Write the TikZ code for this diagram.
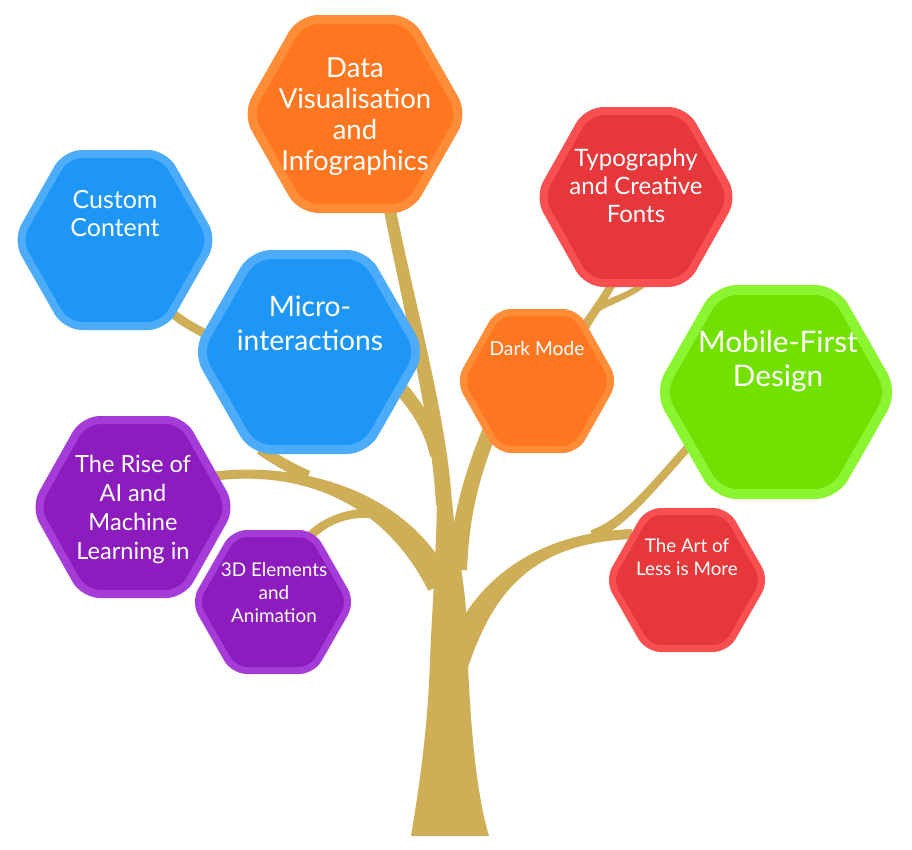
\documentclass[tikz,border=0pt]{standalone}
\usepackage{fontspec}
\setmainfont{Lato}
\usetikzlibrary{calc}
\definecolor{treecol}{HTML}{CFAE58}
\definecolor{bluef}{HTML}{1E96F5}
\definecolor{blueb}{HTML}{4DACFA}
\definecolor{orf}{HTML}{FF7620}
\definecolor{orb}{HTML}{FF8C37}
\definecolor{redf}{HTML}{E6373A}
\definecolor{redb}{HTML}{F85050}
\definecolor{grf}{HTML}{73E100}
\definecolor{grb}{HTML}{8CF532}
\definecolor{puf}{HTML}{8C1CBE}
\definecolor{pub}{HTML}{A53CD7}
% tapered branch: p0 c1 c2 p3 halfwidth0 halfwidth1
\newcommand\tbranch[6]{%
  \coordinate (tbP) at #1;
  \coordinate (tbA) at #2;
  \coordinate (tbB) at #3;
  \coordinate (tbQ) at #4;
  \coordinate (tbPL) at ($(tbP)!#5!90:(tbA)$);
  \coordinate (tbPR) at ($(tbP)!#5!-90:(tbA)$);
  \coordinate (tbQL) at ($(tbQ)!#6!-90:(tbB)$);
  \coordinate (tbQR) at ($(tbQ)!#6!90:(tbB)$);
  \fill[treecol] (tbPL) .. controls ($(tbA)+(tbPL)-(tbP)$) and ($(tbB)+(tbQL)-(tbQ)$) .. (tbQL)
     -- (tbQR) .. controls ($(tbB)+(tbQR)-(tbQ)$) and ($(tbA)+(tbPR)-(tbP)$) .. (tbPR) -- cycle;
}
% hexagon: cx cy R H fill border borderwidth cornerradius
\newcommand\hexa[8]{%
  \draw[line width=#7pt, draw=#6, fill=#5, rounded corners=#8pt, line join=round]
    (#1,{#2-(#4-#7/2)}) -- ({#1+(#3-#7/4)/2},{#2-(#4-#7/2)}) -- ({#1+#3-#7/4},#2)
    -- ({#1+(#3-#7/4)/2},{#2+(#4-#7/2)}) -- ({#1-(#3-#7/4)/2},{#2+(#4-#7/2)})
    -- ({#1-#3+#7/4},#2) -- ({#1-(#3-#7/4)/2},{#2-(#4-#7/2)}) -- cycle;
}
\tikzset{txt/.style={text=white, align=center, inner sep=0pt}}
\begin{document}
\begin{tikzpicture}[x=1pt,y=-1pt]
\useasboundingbox (0,0) rectangle (912,849);
% ---- tree ----
\fill[treecol] (411,836) .. controls (422,770) and (428,720) .. (430,660)
   .. controls (432,610) and (436,560) .. (437,500) -- (452,500)
   .. controls (455,540) and (463,570) .. (466,610)
   .. controls (468,680) and (472,780) .. (489,836) -- cycle;
\tbranch{(444,505)}{(440,420)}{(405,290)}{(389,205)}{8pt}{6pt}
\tbranch{(437,455)}{(430,425)}{(415,405)}{(398,385)}{7pt}{7pt}
\tbranch{(458,570)}{(460,520)}{(470,480)}{(490,430)}{9pt}{7.5pt}
\tbranch{(440,585)}{(395,495)}{(300,466)}{(215,476)}{13pt}{4.5pt}
\tbranch{(308,476)}{(292,469)}{(276,460)}{(260,449)}{5.5pt}{5.5pt}
\tbranch{(385,515)}{(360,510)}{(330,515)}{(308,538)}{5pt}{4.5pt}
\tbranch{(172,313)}{(188,326)}{(205,334)}{(235,348)}{4.5pt}{4.5pt}
\tbranch{(455,665)}{(480,590)}{(530,538)}{(632,534)}{13pt}{5pt}
\tbranch{(592,535)}{(622,525)}{(650,490)}{(690,445)}{5pt}{4pt}
\tbranch{(583,330)}{(592,314)}{(600,305)}{(612,284)}{4.5pt}{4pt}
\tbranch{(598,308)}{(612,300)}{(628,296)}{(644,284)}{3.5pt}{3pt}
% ---- hexagons ----
\hexa{115}{240}{100}{90}{bluef}{blueb}{8}{16}
\hexa{309}{352}{114}{102}{bluef}{blueb}{9}{18}
\hexa{355}{114}{110}{99}{orf}{orb}{9}{17}
\hexa{636}{197}{99}{90}{redf}{redb}{8}{16}
\hexa{537}{381}{79}{72}{orf}{orb}{7}{13}
\hexa{776}{392}{119}{107}{grf}{grb}{10}{19}
\hexa{133}{507}{100}{91}{puf}{pub}{8}{16}
\hexa{273}{602}{80}{72}{puf}{pub}{7}{13}
\hexa{687}{580}{80}{72}{redf}{redb}{7}{13}
% ---- texts ----
\node[txt, font=\fontsize{25}{28}\selectfont] (cc) at (115,214) {Custom\\Content};
\node[txt, font=\fontsize{28.2}{34}\selectfont] (mi) at (310,323) {Micro-\\interactions};
\node[txt, font=\fontsize{27.5}{31}\selectfont] (dv) at (355,117) {Data\\Visualisation\\and\\Infographics};
\node[txt, font=\fontsize{24}{28}\selectfont] (ty) at (636,186) {Typography\\and Creative\\Fonts};
\node[txt, font=\fontsize{19.2}{22}\selectfont] (dm) at (537,348) {Dark Mode};
\node[txt, font=\fontsize{29.7}{34}\selectfont] (mf) at (778,361) {Mobile-First\\Design};
\node[txt, font=\fontsize{23.6}{29}\selectfont] (ai) at (133,509) {The Rise of\\AI and\\Machine\\Learning in};
\node[txt, font=\fontsize{18.9}{23}\selectfont] (td) at (274,593) {3D Elements\\and\\Animation};
\node[txt, font=\fontsize{18.8}{23}\selectfont] (al) at (687,557) {The Art of\\Less is More};
\end{tikzpicture}
\end{document}
